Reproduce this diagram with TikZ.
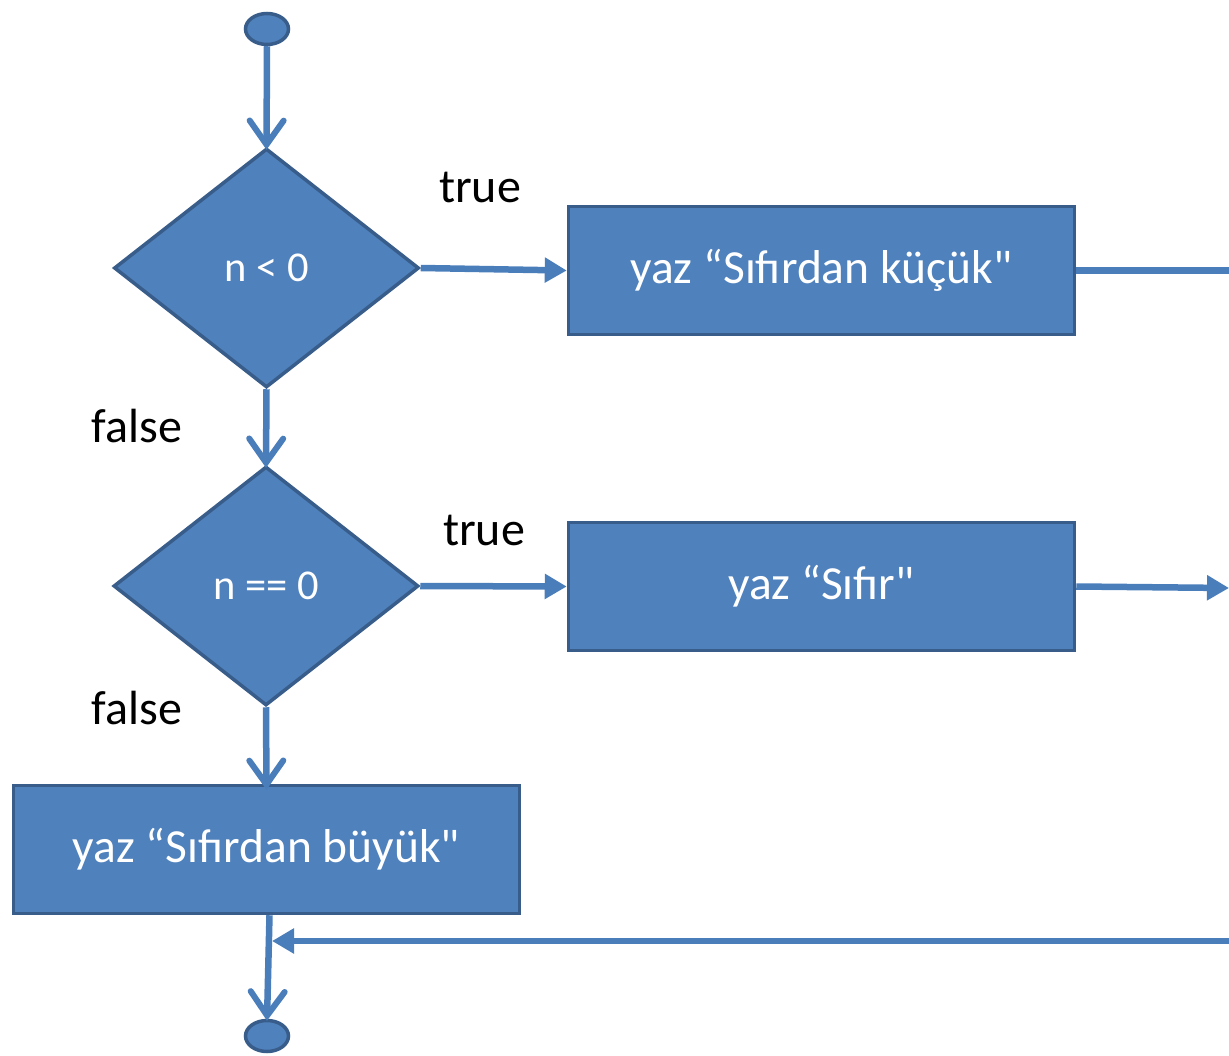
\documentclass[tikz,border=0pt]{standalone}
\usepackage{fontspec}
\setmainfont{Carlito}[Ligatures=TeXOff]
\usetikzlibrary{shapes.geometric,arrows.meta}
\definecolor{boxfill}{HTML}{4F81BD}
\definecolor{boxline}{HTML}{385D8A}
\definecolor{conn}{HTML}{4A7EBB}
\begin{document}
\begin{tikzpicture}[x=1pt,y=-1pt,
  every node/.style={font=\fontsize{48}{54}\selectfont},
  procbox/.style={draw=boxline,fill=boxfill,line width=3.5pt,minimum width=506pt,minimum height=128pt,inner sep=0pt,text=white,font=\fontsize{47.5}{54}\selectfont},
  decbox/.style={diamond,draw=boxline,fill=boxfill,line width=3.5pt,minimum width=305pt,minimum height=239pt,inner sep=0pt,text=white,font=\fontsize{42.5}{48}\selectfont},
  termbox/.style={ellipse,draw=boxline,fill=boxfill,line width=3.5pt,minimum width=43pt,minimum height=31pt,inner sep=0pt},
  lbl/.style={text=black,inner sep=0pt},
  flow/.style={draw=conn,line width=6.5pt},
  vhead/.style={flow,-{Straight Barb[length=24pt,width=34pt,line cap=round,line width=6pt]}},
  thead/.style={flow,-{Triangle[length=22pt,width=24pt]}}
]
\useasboundingbox (0,0) rectangle (1229,1056);
\node[termbox] (start) at (267,29) {};
\node[decbox] (d1) at (266.5,268) {n < 0};
\node[procbox] (b1) at (821.5,270.5) {yaz “Sıfırdan küçük"};
\node[decbox] (d2) at (266,586) {n == 0};
\node[procbox] (b2) at (821.5,586.5) {yaz “Sıfır"};
\node[procbox] (b3) at (266.5,849.5) {yaz “Sıfırdan büyük"};
\node[termbox] (end) at (267,1036) {};
\node[lbl] (t1) at (480,188) {true};
\node[lbl] (f1) at (137,426) {false};
\node[lbl] (t2) at (484,530) {true};
\node[lbl] (f2) at (137,708) {false};
\coordinate (r1) at (1232,270.5);
\coordinate (r2) at (1229,588);
\coordinate (r3) at (1232,941);
\coordinate (j) at (268,941);

\draw[vhead] (start.south) -- ([yshift=-3pt]d1.north);
\draw[thead] (d1.east) -- (b1.west);
\draw[flow] (b1.east) -- (r1);
\draw[vhead] (d1.south) -- ([yshift=-3pt]d2.north);
\draw[thead] (d2.east) -- (b2.west);
\draw[thead] (b2.east) -- (r2);
\draw[vhead] (d2.south) -- ([yshift=-6pt]b3.north);
\draw[vhead] ([xshift=3pt]b3.south) -- ([yshift=-2pt]end.north);
\draw[thead] (r3) -- ([xshift=4pt]j);
\end{tikzpicture}
\end{document}
